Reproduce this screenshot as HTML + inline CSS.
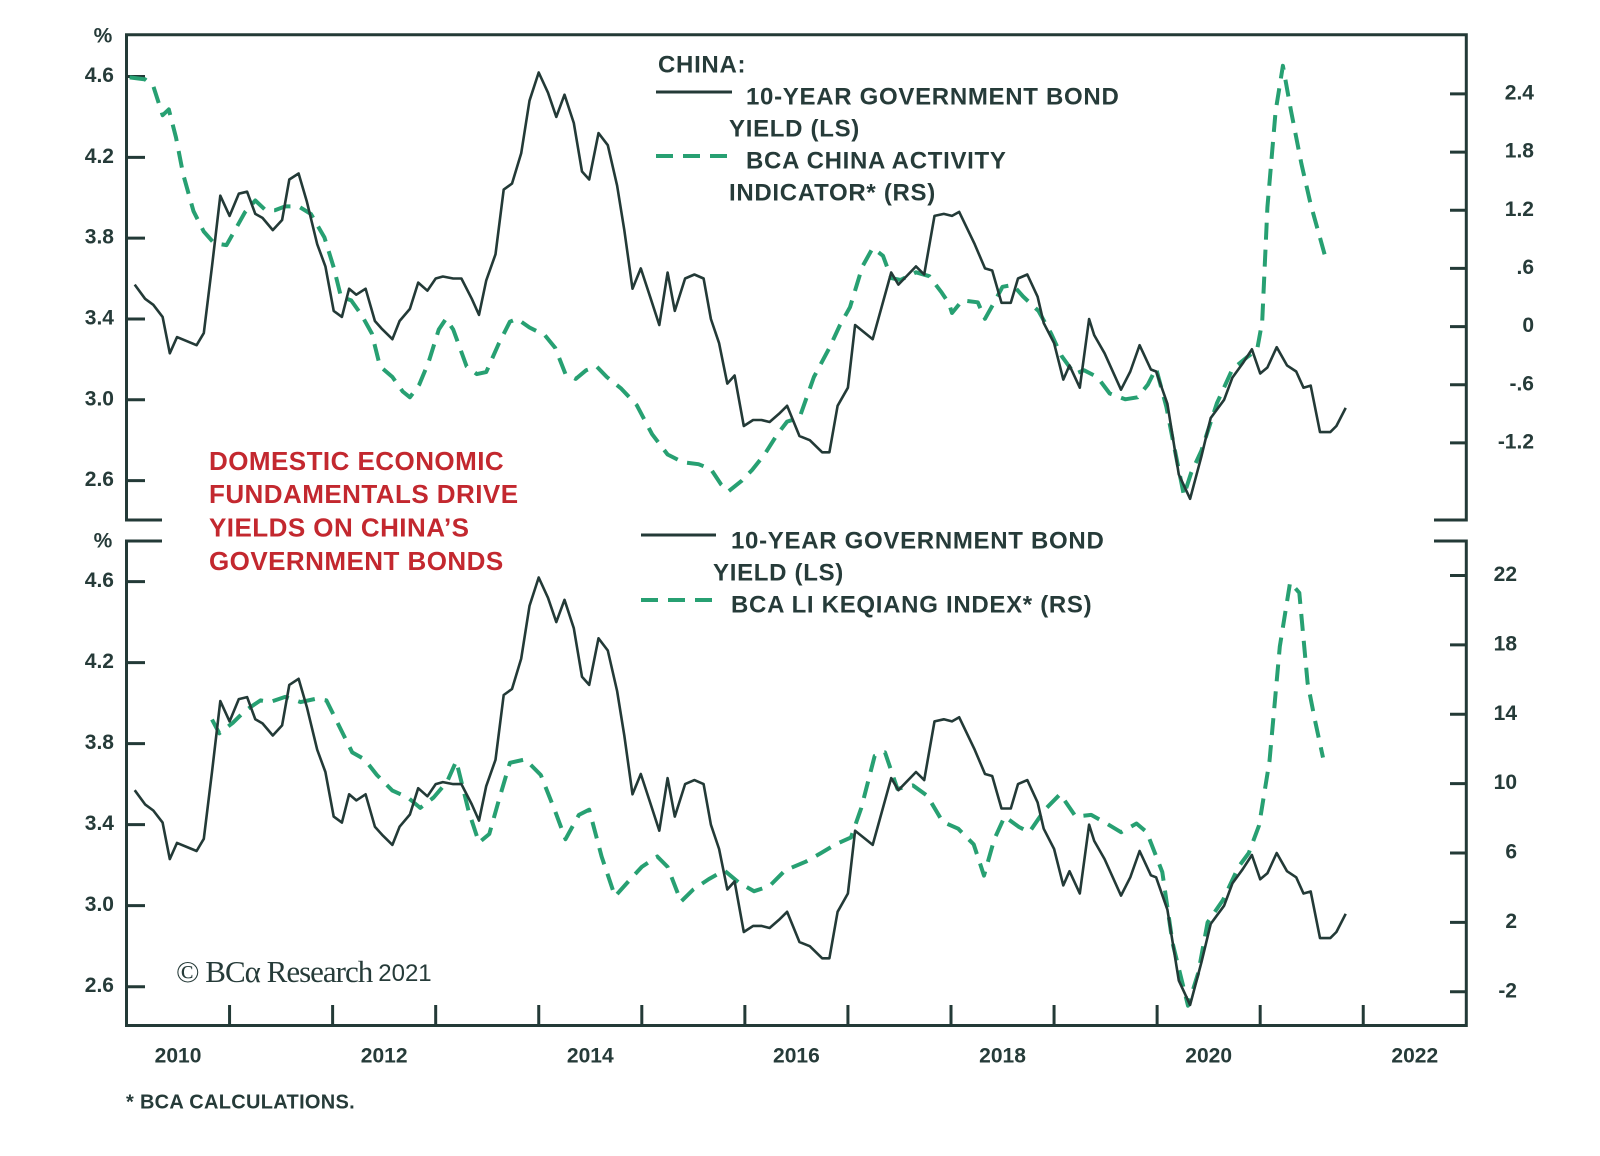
<!DOCTYPE html>
<html><head><meta charset="utf-8"><style>
html,body{margin:0;padding:0;background:#fff;}
svg{display:block;font-family:"Liberation Sans",sans-serif;}
.t{fill:#263b39;font-weight:bold;font-size:21px;}
.lg{fill:#263b39;font-weight:bold;font-size:24px;letter-spacing:0.7px;}
.red{fill:#c3282f;font-size:26px;font-weight:bold;letter-spacing:0.45px;}
</style></head><body>
<svg id="c" width="1600" height="1156" viewBox="0 0 1600 1156" xmlns="http://www.w3.org/2000/svg"></svg>
<script>
const yieldYears=[2010.08,2010.18,2010.26,2010.35,2010.42,2010.49,2010.68,2010.75,2010.83,2010.91,2011.00,2011.09,2011.17,2011.25,2011.32,2011.42,2011.51,2011.58,2011.67,2011.75,2011.85,2011.93,2012.01,2012.09,2012.16,2012.23,2012.32,2012.41,2012.48,2012.58,2012.65,2012.75,2012.83,2012.92,2013.00,2013.07,2013.17,2013.25,2013.35,2013.42,2013.49,2013.58,2013.66,2013.74,2013.83,2013.91,2014.00,2014.09,2014.17,2014.25,2014.34,2014.42,2014.49,2014.58,2014.67,2014.76,2014.83,2014.91,2014.99,2015.08,2015.17,2015.25,2015.32,2015.42,2015.51,2015.60,2015.67,2015.75,2015.83,2015.90,2015.99,2016.08,2016.16,2016.24,2016.33,2016.41,2016.53,2016.63,2016.75,2016.82,2016.90,2017.00,2017.07,2017.24,2017.42,2017.49,2017.66,2017.74,2017.84,2017.93,2018.01,2018.08,2018.23,2018.33,2018.40,2018.49,2018.58,2018.65,2018.74,2018.84,2018.90,2019.00,2019.09,2019.15,2019.25,2019.34,2019.39,2019.49,2019.65,2019.74,2019.83,2019.94,2019.99,2020.10,2020.21,2020.32,2020.43,2020.52,2020.65,2020.73,2020.83,2020.92,2021.00,2021.07,2021.16,2021.26,2021.35,2021.42,2021.49,2021.58,2021.68,2021.74,2021.83];
const yieldValues=[3.57,3.50,3.47,3.41,3.23,3.31,3.27,3.33,3.66,4.01,3.91,4.02,4.03,3.92,3.90,3.84,3.89,4.09,4.12,3.98,3.77,3.66,3.44,3.41,3.55,3.52,3.55,3.39,3.35,3.30,3.39,3.45,3.58,3.54,3.60,3.61,3.60,3.60,3.50,3.42,3.59,3.72,4.04,4.07,4.22,4.48,4.62,4.52,4.40,4.51,4.37,4.13,4.09,4.32,4.26,4.06,3.84,3.55,3.65,3.51,3.37,3.63,3.44,3.60,3.62,3.60,3.40,3.28,3.08,3.12,2.87,2.90,2.90,2.89,2.93,2.97,2.82,2.80,2.74,2.74,2.97,3.06,3.37,3.30,3.63,3.57,3.66,3.62,3.91,3.92,3.91,3.93,3.77,3.65,3.64,3.48,3.48,3.60,3.62,3.51,3.38,3.28,3.10,3.17,3.06,3.40,3.32,3.23,3.05,3.14,3.27,3.15,3.14,2.98,2.63,2.51,2.72,2.91,3.00,3.11,3.18,3.25,3.13,3.16,3.26,3.17,3.14,3.06,3.07,2.84,2.84,2.87,2.96];
const activityYears=[2010.03,2010.18,2010.26,2010.35,2010.41,2010.48,2010.55,2010.65,2010.75,2010.85,2010.97,2011.05,2011.15,2011.25,2011.35,2011.44,2011.54,2011.67,2011.79,2011.92,2012.01,2012.08,2012.18,2012.28,2012.38,2012.46,2012.58,2012.68,2012.75,2012.84,2012.93,2013.03,2013.10,2013.17,2013.30,2013.40,2013.49,2013.61,2013.72,2013.79,2013.91,2014.06,2014.16,2014.26,2014.36,2014.46,2014.56,2014.66,2014.80,2014.95,2015.10,2015.25,2015.40,2015.55,2015.67,2015.77,2015.84,2015.97,2016.07,2016.19,2016.31,2016.41,2016.53,2016.67,2016.82,2016.92,2017.02,2017.14,2017.24,2017.34,2017.42,2017.51,2017.66,2017.79,2017.91,2017.98,2018.01,2018.11,2018.26,2018.33,2018.43,2018.50,2018.60,2018.70,2018.85,2018.97,2019.07,2019.20,2019.29,2019.42,2019.54,2019.69,2019.81,2019.91,2019.99,2020.09,2020.16,2020.26,2020.33,2020.43,2020.58,2020.73,2020.88,2020.97,2021.02,2021.07,2021.15,2021.22,2021.30,2021.40,2021.49,2021.64];
const activityValues=[2.57,2.55,2.48,2.18,2.24,1.95,1.57,1.19,0.98,0.86,0.84,0.99,1.18,1.30,1.20,1.20,1.24,1.24,1.16,0.92,0.61,0.31,0.27,0.12,-0.07,-0.41,-0.52,-0.67,-0.73,-0.60,-0.37,-0.03,0.08,-0.03,-0.41,-0.49,-0.47,-0.18,0.05,0.08,-0.01,-0.09,-0.22,-0.49,-0.54,-0.45,-0.41,-0.52,-0.64,-0.81,-1.11,-1.32,-1.40,-1.42,-1.47,-1.63,-1.70,-1.59,-1.48,-1.32,-1.12,-0.98,-0.94,-0.52,-0.22,0.01,0.20,0.62,0.81,0.73,0.50,0.48,0.56,0.52,0.35,0.24,0.14,0.27,0.25,0.08,0.27,0.41,0.43,0.31,0.16,-0.07,-0.30,-0.49,-0.45,-0.52,-0.69,-0.75,-0.73,-0.60,-0.43,-0.83,-1.21,-1.74,-1.51,-1.28,-0.79,-0.44,-0.31,-0.24,0.05,1.23,2.22,2.69,2.22,1.68,1.26,0.69];
const lkqYears=[2010.83,2010.90,2011.03,2011.15,2011.30,2011.39,2011.54,2011.69,2011.84,2011.94,2012.09,2012.19,2012.31,2012.43,2012.58,2012.73,2012.85,2012.98,2013.11,2013.20,2013.32,2013.42,2013.52,2013.62,2013.72,2013.87,2014.02,2014.16,2014.26,2014.39,2014.49,2014.61,2014.74,2014.89,2015.00,2015.15,2015.25,2015.38,2015.50,2015.65,2015.80,2015.94,2016.09,2016.24,2016.39,2016.59,2016.74,2016.88,2017.03,2017.13,2017.26,2017.36,2017.48,2017.63,2017.77,2017.92,2018.07,2018.22,2018.32,2018.42,2018.52,2018.66,2018.76,2018.91,2019.06,2019.21,2019.36,2019.51,2019.65,2019.80,2019.90,2020.05,2020.15,2020.30,2020.40,2020.49,2020.64,2020.79,2020.89,2020.99,2021.09,2021.19,2021.29,2021.38,2021.46,2021.53,2021.61];
const lkqValues=[13.7,12.9,13.5,14.2,14.8,14.7,15.0,14.7,14.9,14.8,13.0,11.8,11.4,10.5,9.6,9.2,8.6,9.2,10.1,11.3,8.4,6.6,7.1,9.2,11.2,11.4,10.5,8.4,6.8,8.2,8.5,5.8,3.5,4.5,5.2,5.8,5.2,3.2,3.9,4.5,5.0,4.3,3.8,4.1,5.0,5.5,6.0,6.5,6.9,8.6,11.6,11.8,9.7,9.9,9.3,7.8,7.4,6.5,4.7,6.8,8.1,7.5,7.2,8.5,9.4,8.1,8.2,7.7,7.2,7.7,7.2,4.9,0.8,-2.8,-0.9,2.0,3.3,5.2,6.0,7.6,11.3,17.9,21.6,21.0,15.8,13.7,11.5];
const leftTicks=[4.6,4.2,3.8,3.4,3.0,2.6];
const leftTickLabels=["4.6","4.2","3.8","3.4","3.0","2.6"];
const topRightTicks=[2.4,1.8,1.2,0.6,0,-0.6,-1.2];
const topRightLabels=["2.4","1.8","1.2",".6","0","-.6","-1.2"];
const botRightTicks=[22,18,14,10,6,2,-2];
const botRightLabels=["22","18","14","10","6","2","-2"];
const xYearLabels=[2010,2012,2014,2016,2018,2020,2022];

const NS="http://www.w3.org/2000/svg";
const svg=document.getElementById('c');
function mk(tag,attrs,parent){const e=document.createElementNS(NS,tag);for(const k in attrs)e.setAttribute(k,attrs[k]);(parent||svg).appendChild(e);return e;}
const X0=126.5,X1=1466.3;
const x=y=>X0+(y-2010)*(X1-X0)/13;
const yTopL=v=>76.5+(4.6-v)*(480.6-76.5)/2;
const yTopR=v=>93.9+(2.4-v)*(442.9-93.9)/3.6;
const yBotL=v=>581.6+(4.6-v)*(986.7-581.6)/2;
const yBotR=v=>575.5+(22-v)*(991.8-575.5)/24;
const INK="#233a37",GREEN="#27a072";

let f;
f=mk('path',{d:`M162,520 H${X0} V34.7 H${X1} V520 H1434`,fill:'none',stroke:INK,'stroke-width':3});

f=mk('path',{d:`M162,541 H${X0} V1025.5 H${X1} V541 H1434`,fill:'none',stroke:INK,'stroke-width':3});


function text(s,xx,yy,cls,anchor,name){const t=mk('text',{x:xx,y:yy,class:cls,'text-anchor':anchor||'start','dominant-baseline':'middle'});t.textContent=s;return t;}

leftTicks.forEach((v,i)=>{
  let l=mk('line',{x1:X0,x2:145,y1:yTopL(v),y2:yTopL(v),stroke:INK,'stroke-width':3});
  
  text(leftTickLabels[i],114,yTopL(v),'t','end','top-left-tick-label');
  l=mk('line',{x1:X0,x2:145,y1:yBotL(v),y2:yBotL(v),stroke:INK,'stroke-width':3});
  
  text(leftTickLabels[i],114,yBotL(v),'t','end','bottom-left-tick-label');
});
topRightTicks.forEach((v,i)=>{
  const l=mk('line',{x1:1450,x2:X1,y1:yTopR(v),y2:yTopR(v),stroke:INK,'stroke-width':3});
  
  text(topRightLabels[i],1534,yTopR(v),'t','end','top-right-tick-label');
});
botRightTicks.forEach((v,i)=>{
  const l=mk('line',{x1:1450,x2:X1,y1:yBotR(v),y2:yBotR(v),stroke:INK,'stroke-width':3});
  
  text(botRightLabels[i],1517,yBotR(v),'t','end','bottom-right-tick-label');
});
for(let yr=2011;yr<=2022;yr++){
  const l=mk('line',{x1:x(yr),x2:x(yr),y1:1005,y2:1025,stroke:INK,'stroke-width':3});
  
}
xYearLabels.forEach(yr=>text(String(yr),x(yr+0.5),1057,'t','middle','x-tick-label'));
text('%',103,37,'t','middle','top-left-unit');
text('%',103,542,'t','middle','bottom-left-unit');

function line(xs,vs,fy,dashed,name){
  const d=xs.map((yr,i)=>(i?'L':'M')+x(yr).toFixed(1)+','+fy(vs[i]).toFixed(1)).join(' ');
  const p=mk('path',{d:d,fill:'none',stroke:dashed?GREEN:INK,'stroke-width':dashed?4:2.6,'stroke-linejoin':'round'});
  if(dashed)p.setAttribute('stroke-dasharray','17 10');
  
}
line(activityYears,activityValues,yTopR,true,'activity-indicator-line');
line(yieldYears,yieldValues,yTopL,false,'top-yield-line');
line(lkqYears,lkqValues,yBotR,true,'li-keqiang-line');
line(yieldYears,yieldValues,yBotL,false,'bottom-yield-line');

text('CHINA:',658,66,'lg','start','legend-title');
let s=mk('line',{x1:656,x2:732,y1:92,y2:92,stroke:INK,'stroke-width':3});
text('10-YEAR GOVERNMENT BOND',746,98,'lg','start','legend-yield-label');
text('YIELD (LS)',729,130,'lg','start','legend-yield-label-2');
s=mk('line',{x1:656,x2:732,y1:156,y2:156,stroke:GREEN,'stroke-width':4,'stroke-dasharray':'17 10'});
text('BCA CHINA ACTIVITY',746,162,'lg','start','legend-activity-label');
text('INDICATOR* (RS)',729,194,'lg','start','legend-activity-label-2');
s=mk('line',{x1:641,x2:716,y1:535,y2:535,stroke:INK,'stroke-width':3});
text('10-YEAR GOVERNMENT BOND',731,542,'lg','start','legend-bottom-yield-label');
text('YIELD (LS)',713,574,'lg','start','legend-bottom-yield-label-2');
s=mk('line',{x1:641,x2:716,y1:600,y2:600,stroke:GREEN,'stroke-width':4,'stroke-dasharray':'17 10'});
text('BCA LI KEQIANG INDEX* (RS)',731,606,'lg','start','legend-lkq-label');

['DOMESTIC ECONOMIC','FUNDAMENTALS DRIVE','YIELDS ON CHINA\u2019S','GOVERNMENT BONDS'].forEach((t,i)=>text(t,209,463+i*33.3,'red','start','chart-title-line'));
const cp=mk('text',{x:176,y:975,'dominant-baseline':'middle',fill:'#263b39'});


cp.innerHTML='<tspan style="font-family:\'Liberation Serif\',serif;font-size:31px;letter-spacing:-1px">© BCα Research</tspan><tspan dx="6" style="font-family:\'Liberation Sans\',sans-serif;font-size:24px">2021</tspan>';
text('* BCA CALCULATIONS.',126,1103,'t','start','footnote').setAttribute('style','font-size:20px;letter-spacing:0.3px');
</script>
</body></html>
